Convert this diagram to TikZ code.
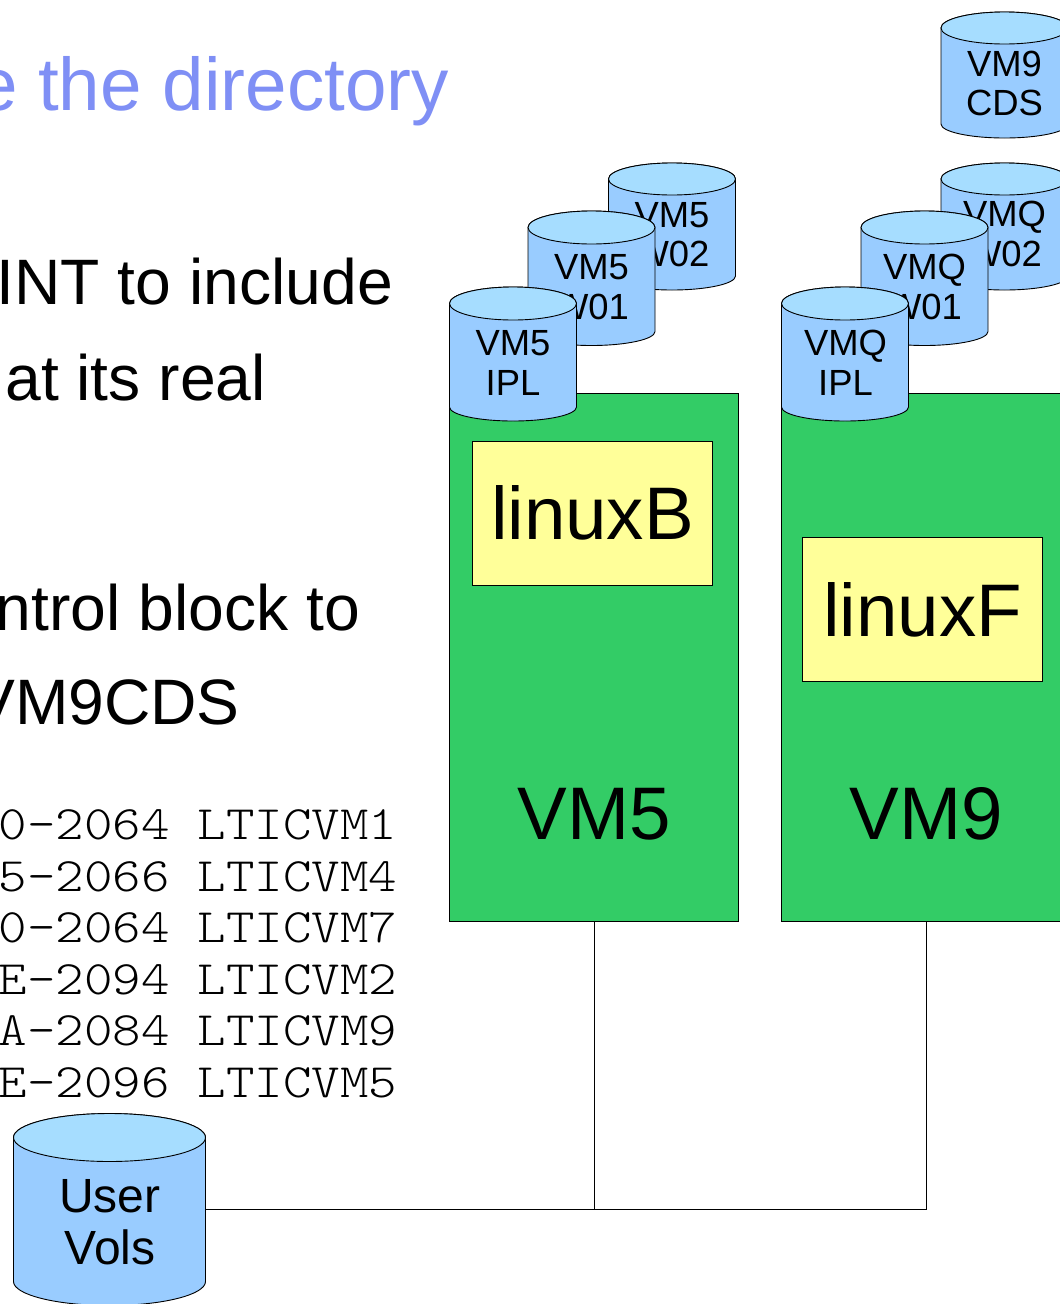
\documentclass[tikz,border=0pt]{standalone}
\usepackage{fontspec}
\setmainfont{Liberation Sans}
\setmonofont{Latin Modern Mono Light}
\definecolor{cylbody}{HTML}{99CCFF}
\definecolor{cyltop}{HTML}{A6DDFF}
\definecolor{hostgreen}{HTML}{33CC66}
\definecolor{guestyellow}{HTML}{FFFF99}
\definecolor{titleblue}{HTML}{7F8FF5}
\newcommand{\fsz}[1]{\fontsize{#1}{#1}\selectfont}
\newcommand{\monoline}[2]{\node[monotext] (#1) at (397.5,#2) {\scalebox{1.13}[1]{\ttfamily\fsz{48}\MonoText}};}
% name, x1, x2, ytop, ybottom, top ry, bottom ry
\newcommand{\cylbody}[7]{%
  \pgfmathsetmacro{\xm}{(#2+#3)/2}
  \pgfmathsetmacro{\rx}{(#3-#2)/2}
  \pgfmathsetmacro{\kx}{0.5523*\rx}
  \pgfmathsetmacro{\kt}{0.5523*#6}
  \pgfmathsetmacro{\kb}{0.5523*#7}
  \pgfmathsetmacro{\ya}{#4+#6}
  \pgfmathsetmacro{\yb}{#5-#7}
  \pgfmathsetmacro{\ym}{(#4+#5)/2}
  \filldraw[outl,fill=cylbody] (#2,\ya) -- (#2,\yb)
    .. controls (#2,\yb+\kb) and (\xm-\kx,#5) .. (\xm,#5)
    .. controls (\xm+\kx,#5) and (#3,\yb+\kb) .. (#3,\yb)
    -- (#3,\ya)
    .. controls (#3,\ya-\kt) and (\xm+\kx,#4) .. (\xm,#4)
    .. controls (\xm-\kx,#4) and (#2,\ya-\kt) .. (#2,\ya) -- cycle;
  \filldraw[outl,fill=cyltop] (#2,\ya)
    .. controls (#2,\ya+\kt) and (\xm-\kx,\ya+#6) .. (\xm,\ya+#6)
    .. controls (\xm+\kx,\ya+#6) and (#3,\ya+\kt) .. (#3,\ya)
    .. controls (#3,\ya-\kt) and (\xm+\kx,#4) .. (\xm,#4)
    .. controls (\xm-\kx,#4) and (#2,\ya-\kt) .. (#2,\ya) -- cycle;
  \node[anchorbox,minimum width=#3pt-#2pt,minimum height=#5pt-#4pt] (#1) at (\xm,\ym) {};
}
\tikzset{
  outl/.style={draw=black,line width=0.9pt},
  anchorbox/.style={inner sep=0pt,outer sep=0pt},
  lab/.style={anchor=base,inner sep=0pt,text=black},
  cyllab/.style={lab,font=\fsz{36.4}},
  biglab/.style={lab,font=\fsz{74.5}},
  bodytext/.style={anchor=base east,inner sep=0pt,text=black,font=\fsz{64.2}},
  monotext/.style={anchor=base east,inner sep=0pt,text=black},
  hostbox/.style={outl,fill=hostgreen,anchor=north west,inner sep=0pt,outer sep=0pt,minimum width=289pt,minimum height=528pt},
  guestbox/.style={outl,fill=guestyellow,anchor=north west,inner sep=0pt,outer sep=0pt,minimum width=240pt,minimum height=144pt},
  wire/.style={draw=black,line width=0.9pt}
}
\begin{document}
\begin{tikzpicture}[x=1pt,y=-1pt]
\useasboundingbox (0,0) rectangle (1060,1304);
\fill[white] (0,0) rectangle (1060,1304);

\node[anchor=base east,inner sep=0pt,text=titleblue,font=\fsz{74.6}] (title) at (449,110) {e the directory};
\node[bodytext] (t1) at (393,304.5) {INT to include};
\node[bodytext] (t2) at (266,400) {at its real};
\node[bodytext] (t3) at (360,630) {ntrol block to};
\node[bodytext] (t4) at (240,724.5) {VM9CDS};

\def\MonoText{0-2064 LTICVM1}\monoline{m1}{839.5}
\def\MonoText{5-2066 LTICVM4}\monoline{m2}{891}
\def\MonoText{0-2064 LTICVM7}\monoline{m3}{942.5}
\def\MonoText{E-2094 LTICVM2}\monoline{m4}{994}
\def\MonoText{A-2084 LTICVM9}\monoline{m5}{1045.5}
\def\MonoText{E-2096 LTICVM5}\monoline{m6}{1097}

\node[hostbox] (vm5) at (449.5,393) {};
\node[hostbox] (vm9) at (781.5,393) {};
\node[guestbox] (linuxb) at (472.5,441) {};
\node[guestbox] (linuxf) at (802.5,537.5) {};
\node[biglab] (linuxbt) at (592.5,539.5) {linuxB};
\node[biglab] (linuxft) at (922.5,636) {linuxF};
\node[biglab] (vm5t) at (594,839) {VM5};
\node[biglab] (vm9t) at (926,839) {VM9};

\cylbody{a3}{608.5}{735.5}{163}{290}{16}{14}
\node[cyllab] (a3a) at (672,227) {VM5};
\node[cyllab] (a3b) at (672,266.5) {W02};
\cylbody{a2}{528}{655}{211}{345.5}{16.5}{14}
\node[cyllab] (a2a) at (591.5,279) {VM5};
\node[cyllab] (a2b) at (591.5,319.5) {W01};
\cylbody{a1}{449.5}{576.5}{287}{421}{16.5}{14}
\node[cyllab] (a1a) at (513,355.5) {VM5};
\node[cyllab] (a1b) at (513,395.5) {IPL};

\cylbody{c1}{941}{1068}{12}{138}{16}{14}
\node[cyllab] (c1a) at (1004.5,76) {VM9};
\node[cyllab] (c1b) at (1004.5,115.5) {CDS};
\cylbody{b3}{941}{1068}{163}{290}{16}{14}
\node[cyllab] (b3a) at (1004.5,226) {VMQ};
\node[cyllab] (b3b) at (1004.5,266.5) {W02};
\cylbody{b2}{861}{988}{211}{345.5}{16.5}{14}
\node[cyllab] (b2a) at (924.5,279) {VMQ};
\node[cyllab] (b2b) at (924.5,319.5) {W01};
\cylbody{b1}{781.5}{908.5}{287}{421}{16.5}{14}
\node[cyllab] (b1a) at (845.5,355.5) {VMQ};
\node[cyllab] (b1b) at (845.5,395.5) {IPL};

\cylbody{uv}{13.5}{205.5}{1113.5}{1305.5}{24}{24}
\node[lab,font=\fsz{48}] (uva) at (110,1212.5) {User};
\node[lab,font=\fsz{48}] (uvb) at (110,1264.5) {Vols};

\draw[wire] (uv.east) -| (vm9.south);
\draw[wire] (vm5.south) -- (vm5.south |- uv.east);
\end{tikzpicture}
\end{document}
